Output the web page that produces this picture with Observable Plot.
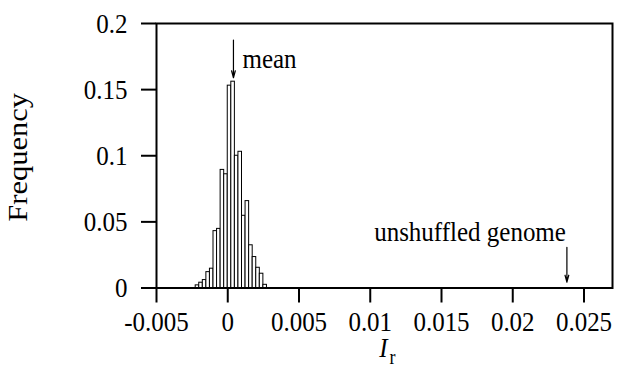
<!DOCTYPE html>
<html>
<head>
<meta charset="utf-8">
<script src="https://cdn.jsdelivr.net/npm/d3@7"></script>
<script src="https://cdn.jsdelivr.net/npm/@observablehq/plot@0.6"></script>
<style>
  body { margin: 0; background: #fff; }
</style>
</head>
<body>
<div id="chart"></div>
<script>
// Histogram bins (left edge, right edge) of I_r and their frequencies
const binLeft = [-0.00225, -0.002, -0.00175, -0.0015, -0.00125, -0.001, -0.00075, -0.0005, -0.00025, 0,
                 0.00025, 0.0005, 0.00075, 0.001, 0.00125, 0.0015, 0.00175, 0.002, 0.00225, 0.0025];
const binRight = [-0.002, -0.00175, -0.0015, -0.00125, -0.001, -0.00075, -0.0005, -0.00025, 0, 0.00025,
                  0.0005, 0.00075, 0.001, 0.00125, 0.0015, 0.00175, 0.002, 0.00225, 0.0025, 0.00275];
const frequency = [0.002, 0.004, 0.006, 0.012, 0.0146, 0.043, 0.0447, 0.0893, 0.086, 0.153,
                   0.156, 0.100, 0.103, 0.0546, 0.0657, 0.0323, 0.0234, 0.0153, 0.0108, 0.0024];

const xTicks = [-0.005, 0, 0.005, 0.01, 0.015, 0.02, 0.025];
const yTicks = [0, 0.05, 0.1, 0.15, 0.2];

// Annotations: label, x value, arrow from/to (in frequency units), label height
const annLabels = ["mean", "unshuffled genome"];
const annX = [0.0004, 0.0238];
const annFrom = [0.1875, 0.0308];
const annTo = [0.159, 0.0044];
const annTextY = [0.1729, 0.0422];

const bins = binLeft.map((x0, i) => ({x0, x1: binRight[i], f: frequency[i]}));
const ann = annLabels.map((label, i) => ({label, x: annX[i], y1: annFrom[i], y2: annTo[i], ty: annTextY[i]}));

const fmt = d => String(d);

const chart = Plot.plot({
  width: 618,
  height: 382,
  marginLeft: 156,
  marginRight: 6,
  marginTop: 23,
  marginBottom: 94.5,
  x: {domain: [-0.005, 0.027]},
  y: {domain: [0, 0.2]},
  style: {fontFamily: "'Liberation Serif', 'Times New Roman', serif", fontSize: "25px", background: "white", color: "black"},
  marks: [
    Plot.rectY(bins, {x1: "x0", x2: "x1", y: "f", fill: "white", stroke: "black", strokeWidth: 1}),
    Plot.frame({stroke: "black", strokeWidth: 2}),
    Plot.axisX({ticks: xTicks, tickSize: 15, tickPadding: 9, strokeWidth: 2, tickFormat: fmt, label: null}),
    Plot.axisY({ticks: yTicks, tickSize: 15, tickPadding: 14, strokeWidth: 2, tickFormat: fmt, label: null}),
    Plot.arrow(ann, {x1: "x", x2: "x", y1: "y1", y2: "y2", stroke: "black", strokeWidth: 1.2, headLength: 9, headAngle: 30}),
    Plot.text(ann.slice(0, 1), {x: "x", y: "ty", text: "label", textAnchor: "start", dx: 9, fill: "black"}),
    Plot.text(ann.slice(1), {x: "x", y: "ty", text: "label", textAnchor: "end", dx: -1, fill: "black"}),
    Plot.text([0], {frameAnchor: "bottom", text: () => "I", fontStyle: "italic", textAnchor: "end", dx: 3, dy: 68, fill: "black"}),
    Plot.text([0], {frameAnchor: "bottom", text: () => "r", fontSize: 18, textAnchor: "start", dx: 5, dy: 75.5, fill: "black"}),
    Plot.text([0], {frameAnchor: "left", text: () => "Frequency", rotate: -90, textAnchor: "middle", dx: -138, dy: 1.5, fontSize: 27, fill: "black"})
  ]
});
document.getElementById("chart").append(chart);

// The reference typeface is drawn a little taller than wide: stretch each text vertically about its centre.
const S = 1.13;
const NS = "http://www.w3.org/2000/svg";
chart.querySelectorAll("text").forEach(t => {
  const b = t.getBBox();
  let cx = b.x + b.width / 2, cy = b.y + b.height / 2;
  const tl = t.transform && t.transform.baseVal.consolidate();
  if (tl) {
    const m = tl.matrix;
    const px = m.a * cx + m.c * cy + m.e, py = m.b * cx + m.d * cy + m.f;
    cx = px; cy = py;
  }
  const g = document.createElementNS(NS, "g");
  g.setAttribute("transform", `translate(${cx},${cy}) scale(1,${S}) translate(${-cx},${-cy})`);
  t.parentNode.insertBefore(g, t);
  g.appendChild(t);
});
</script>
</body>
</html>
